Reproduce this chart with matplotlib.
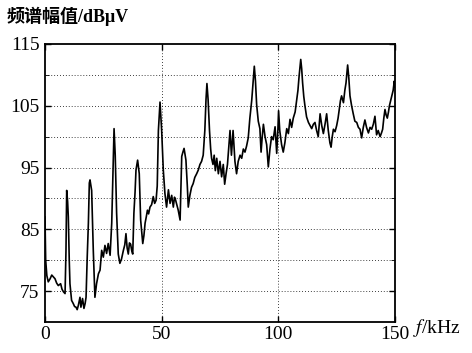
import matplotlib
matplotlib.use('Agg')
import matplotlib.pyplot as plt

# spectrum: frequency (kHz) and level (dBuV)
freq = [0, 0.3, 0.8, 1.4, 2.2, 2.9, 3.6, 4.3, 5.0, 5.7, 6.7, 7.3, 7.9, 8.6, 9.0, 9.3, 9.7,
        10.0, 10.4, 10.7, 11.4, 12.1, 12.7, 13.3, 13.8, 14.3, 15.0, 15.4, 16.1, 16.7, 17.2,
        17.6, 18.1, 18.6, 19.0, 19.3, 20.0, 20.7, 21.4, 22.1, 22.9, 23.6, 24.3, 25.0, 25.7,
        26.4, 27.1, 27.9, 28.6, 29.2, 29.6, 30.1, 30.7, 31.4, 32.1, 32.8, 33.6, 34.2, 34.7,
        35.2, 35.7, 36.2, 36.7, 37.2, 37.6, 38.1, 38.6, 39.0, 39.7, 40.4, 41.0, 41.9, 42.4,
        42.9, 43.4, 43.9, 44.4, 45.0, 45.7, 46.4, 47.0, 47.6, 48.1, 48.6, 49.3, 50.0, 50.7,
        51.4, 52.1, 52.5, 52.9, 53.6, 54.3, 55.0, 55.5, 56.0, 56.6, 57.1, 57.9, 58.6, 59.1,
        59.6, 60.4, 61.0, 61.4, 62.1, 62.8, 63.5, 64.2, 65.0, 65.7, 66.4, 67.1, 67.8, 68.5,
        69.0, 69.4, 69.9, 70.5, 71.0, 71.4, 72.0, 72.5, 73.0, 73.6, 74.3, 75.0, 75.7, 76.4,
        77.0, 77.6, 78.2, 78.9, 79.3, 79.9, 80.6, 81.0, 81.4, 82.1, 82.8, 83.6, 84.3, 85.0,
        85.7, 86.4, 87.1, 87.8, 88.6, 89.2, 89.7, 90.2, 90.7, 91.4, 92.1, 92.6, 93.1, 93.6,
        94.3, 95.0, 95.7, 96.4, 97.1, 97.8, 98.6, 99.3, 99.8, 100.1, 100.6, 101.4, 102.1,
        102.8, 103.6, 104.3, 105.0, 105.7, 106.4, 107.2, 107.9, 108.4, 108.9, 109.6, 110.0,
        110.4, 110.9, 111.4, 112.1, 112.9, 113.6, 114.3, 115.0, 115.7, 116.4, 117.1, 117.9,
        118.6, 119.3, 120.0, 120.7, 121.4, 122.1, 122.6, 123.1, 123.6, 124.3, 125.0, 125.6,
        126.1, 126.6, 127.1, 127.9, 128.5, 129.0, 129.7, 130.2, 130.7, 131.4, 132.1, 132.8,
        133.6, 134.3, 135.0, 135.7, 136.4, 137.1, 137.8, 138.6, 139.3, 140.0, 140.7, 141.4,
        142.1, 142.8, 143.6, 144.2, 144.7, 145.2, 145.7, 146.2, 146.7, 147.2, 147.6, 148.1,
        148.6, 149.2, 149.7, 150.0]
level = [87, 80, 77.5, 76.5, 77, 77.6, 77.3, 77, 76.3, 75.9, 76.2, 75.3, 74.9, 74.6, 81.6, 91.3, 89.5,
         87, 80, 76.2, 73.5, 73, 72.5, 72.4, 72, 72.7, 74, 72.4, 73.8, 72.2, 73,
         74, 80.5, 86, 92.5, 93, 91.3, 81.6, 74, 76.2, 77.8, 78.4, 81.6, 80.5, 82.4,
         81.1, 82.7, 80.8, 86, 95, 101.3, 97, 87.6, 81, 79.5, 80.2, 81.6, 82.5, 84.3,
         82, 81, 82.8, 82.6, 81.5, 81, 87.6, 91, 94.6, 96.2, 94, 86.5, 82.7, 84,
         86, 87, 88.1, 87.5, 88.6, 89, 90.3, 89.2, 89.7, 92, 101, 105.6, 101, 94.6,
         90.8, 88.6, 90, 91.4, 89.2, 90.5, 88.6, 90.2, 89.7, 88.8, 88.1, 86.5, 96.8, 97.5,
         98.1, 96.2, 92, 88.6, 90.5, 91.8, 92.4, 93.4, 94, 94.6, 95.5, 96, 97, 101,
         106, 108.6, 106, 101, 98, 96.5, 95.5, 97, 94.5, 96.5, 94, 96, 93.5, 95.5,
         92.3, 94, 95.5, 99, 101, 97, 101, 98.5, 96, 94, 96, 97, 96.5, 98,
         97.5, 98.5, 99.8, 103, 105.9, 109, 111.4, 109, 105.2, 102.5, 101.3, 97.5, 100, 102,
         100, 98.7, 95.1, 98, 100, 99.5, 101.6, 97.3, 101, 104.2, 101, 98.7, 97.5,
         99, 101.3, 100.5, 102.8, 101.5, 103, 104, 106, 107.5, 109.8, 112.5, 111,
         108.7, 106.5, 105, 103.2, 102.3, 101.8, 101.3, 102, 102.3, 101, 100, 103.7,
         101.8, 100.5, 102, 103.7, 101, 99, 98.3, 100, 101.2, 100.8, 101.8, 103,
         104.4, 105.8, 106.6, 105.5, 107.5, 108.7, 111.6, 109.5, 106.6, 105, 103.7, 102.5,
         102.3, 101.5, 101.2, 99.8, 101.5, 102.7, 101.5, 100.6, 101.5, 101.2, 102, 103.3,
         100.3, 101, 100, 100.6, 101.2, 103, 104.4, 103.5, 103, 104, 105, 105.8,
         106.6, 107.5, 109, 108]

xticks = [0, 50, 100, 150]
yticks = [75, 85, 95, 105, 115]
ygrid = [75, 80, 85, 90, 95, 100, 105, 110]

plt.rcParams['font.family'] = ['Liberation Serif', 'Noto Sans CJK SC', 'DejaVu Sans']
plt.rcParams['mathtext.fontset'] = 'stix'

fig = plt.figure(figsize=(4.72, 3.53), dpi=100)
ax = fig.add_axes([0.0953, 0.0878, 0.7416, 0.7876])

ax.plot(freq, level, color='black', lw=1.2)

ax.set_xlim(0, 150)
ax.set_ylim(70, 115)
ax.set_xticks(xticks)
ax.set_yticks(yticks)
ax.set_yticks([80, 90, 100, 110], minor=True)
ax.tick_params(axis='both', direction='in', labelsize=14, length=4, width=1,
               top=True, right=True)
ax.tick_params(axis='x', pad=3)
ax.tick_params(axis='y', pad=4)
ax.tick_params(axis='y', which='minor', direction='in', length=3, right=True)

# dotted grid
for g in ygrid:
    ax.axhline(g, color='black', lw=0.6, ls=(0, (1, 2.5)), zorder=0)
for g in [50, 100]:
    ax.axvline(g, color='black', lw=0.6, ls=(0, (1, 2.5)), zorder=0)

for s in ax.spines.values():
    s.set_linewidth(1.3)

fig.text(0.015, 0.955, '频谱幅值/dBμV', fontsize=13, fontweight='bold', va='center', ha='left')
fig.text(0.875, 0.072, '$f$/kHz', fontsize=14, va='center', ha='left')

fig.savefig('out.png', dpi=100)
